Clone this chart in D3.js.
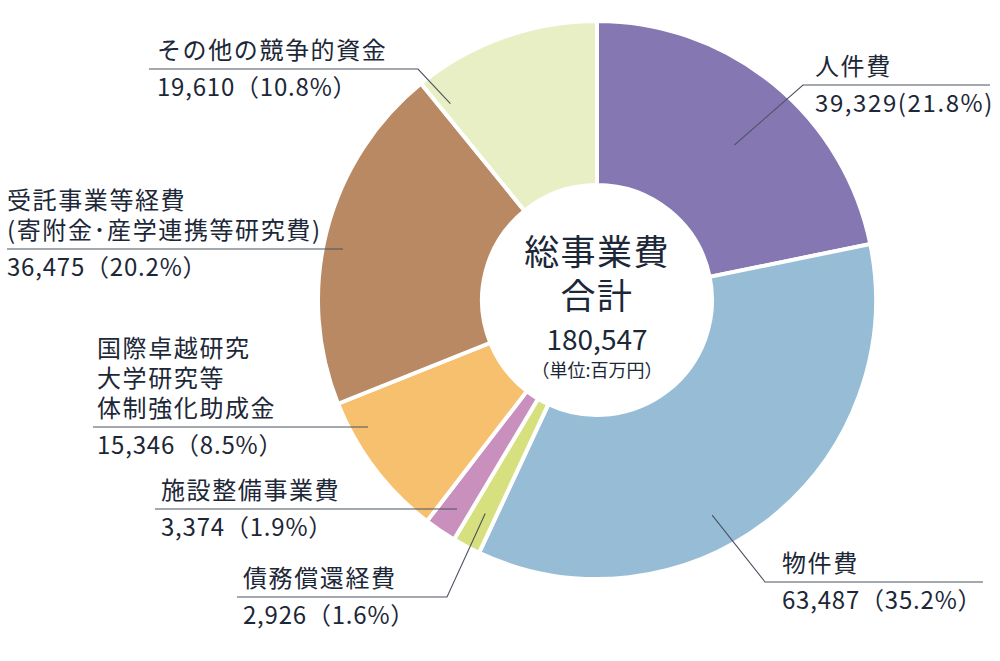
<!DOCTYPE html>
<html>
<head>
<meta charset="utf-8">
<title>総事業費</title>
<style>
  body { margin: 0; background: #fff; }
  text { font-family: "Noto Sans CJK JP", "Noto Sans", sans-serif; fill: #1c2737; }
</style>
<script src="https://d3js.org/d3.v7.min.js"></script>
</head>
<body>
<div id="chart"></div>
<script>
// ******* Data *******
const categories = ["人件費", "物件費", "債務償還経費", "施設整備事業費",
  "国際卓越研究大学研究等体制強化助成金", "受託事業等経費", "その他の競争的資金"];
const amounts = [39329, 63487, 2926, 3374, 15346, 36475, 19610];
const shares = ["21.8%", "35.2%", "1.6%", "1.9%", "8.5%", "20.2%", "10.8%"];
const colors = ["#8477b2", "#97bdd6", "#d6e07e", "#c990bd", "#f6c06f", "#b98964", "#e9efc5"];
const totalLabel = "180,547";

// label text lines (as printed) and layout
const labelLines = [
  ["人件費"],
  ["物件費"],
  ["債務償還経費"],
  ["施設整備事業費"],
  ["国際卓越研究", "大学研究等", "体制強化助成金"],
  ["受託事業等経費", "(寄附金･産学連携等研究費)"],
  ["その他の競争的資金"]
];
// textX, lineY, line from x1 to x2, tip = [fraction of slice angle, radius] or null
const labelLayout = [
  {tx: 815, ly: 85,  x1: 990, x2: 803, tip: [0.53, 207]},
  {tx: 782, ly: 582, x1: 983, x2: 765, tip: [0.58, 244]},
  {tx: 243, ly: 597, x1: 237, x2: 447, tip: [0.45, 241]},
  {tx: 161, ly: 509, x1: 155, x2: 457, tip: null},
  {tx: 97,  ly: 427, x1: 93,  x2: 368, tip: null},
  {tx: 7,   ly: 249, x1: 7,   x2: 343, tip: null},
  {tx: 157, ly: 69,  x1: 149, x2: 418, tip: [0.06, 245]}
];

const width = 1000, height = 661;
const cx = 597, cy = 300, outerR = 279, innerR = 115;

const svg = d3.select("#chart").append("svg")
    .attr("width", width)
    .attr("height", height);

const pie = d3.pie().sort(null).value(d => d);
const arcs = pie(amounts);
const arc = d3.arc().innerRadius(innerR).outerRadius(outerR);

const g = svg.append("g").attr("transform", `translate(${cx},${cy})`);

g.selectAll("path.slice")
  .data(arcs)
  .join("path")
    .attr("class", "slice")
    .attr("d", arc)
    .attr("fill", (d, i) => colors[i])
    .attr("stroke", "#fff")
    .attr("stroke-width", 4)
    .attr("stroke-linejoin", "miter");

// ******* Leader lines *******
function tipPoint(d, tip) {
  const a = d.startAngle + tip[0] * (d.endAngle - d.startAngle);
  return [cx + tip[1] * Math.sin(a), cy - tip[1] * Math.cos(a)];
}

const labels = svg.append("g");
arcs.forEach((d, i) => {
  const L = labelLayout[i];
  const pts = [[L.x1, L.ly], [L.x2, L.ly]];
  if (L.tip) pts.push(tipPoint(d, L.tip));
  labels.append("path")
    .attr("d", d3.line()(pts))
    .attr("fill", "none")
    .attr("stroke", "#4a5260")
    .attr("stroke-width", 1.1);

  const lines = labelLines[i];
  lines.forEach((t, j) => {
    labels.append("text")
      .attr("x", L.tx)
      .attr("y", L.ly - 10 - (lines.length - 1 - j) * 30)
      .attr("font-size", 24)
      .attr("letter-spacing", "1.6px")
      .text(t);
  });
  const val = d3.format(",")(amounts[i]);
  labels.append("text")
    .attr("x", L.tx)
    .attr("y", L.ly + 27)
    .attr("font-size", 24)
    .attr("letter-spacing", i === 0 ? "1.6px" : "0.8px")
    .text(i === 0 ? `${val}(${shares[i]})` : `${val}（${shares[i]}）`);
});

// ******* Center *******
const c = svg.append("g").attr("text-anchor", "middle");
c.append("text").attr("x", cx).attr("y", 265).attr("font-size", 35)
  .attr("letter-spacing", "0.04em").text("総事業費");
c.append("text").attr("x", cx).attr("y", 309).attr("font-size", 35)
  .attr("letter-spacing", "0.04em").text("合計");
c.append("text").attr("x", cx).attr("y", 350).attr("font-size", 28).text(totalLabel);
c.append("text").attr("x", cx).attr("y", 377).attr("font-size", 18).text("（単位:百万円）");
</script>
</body>
</html>
